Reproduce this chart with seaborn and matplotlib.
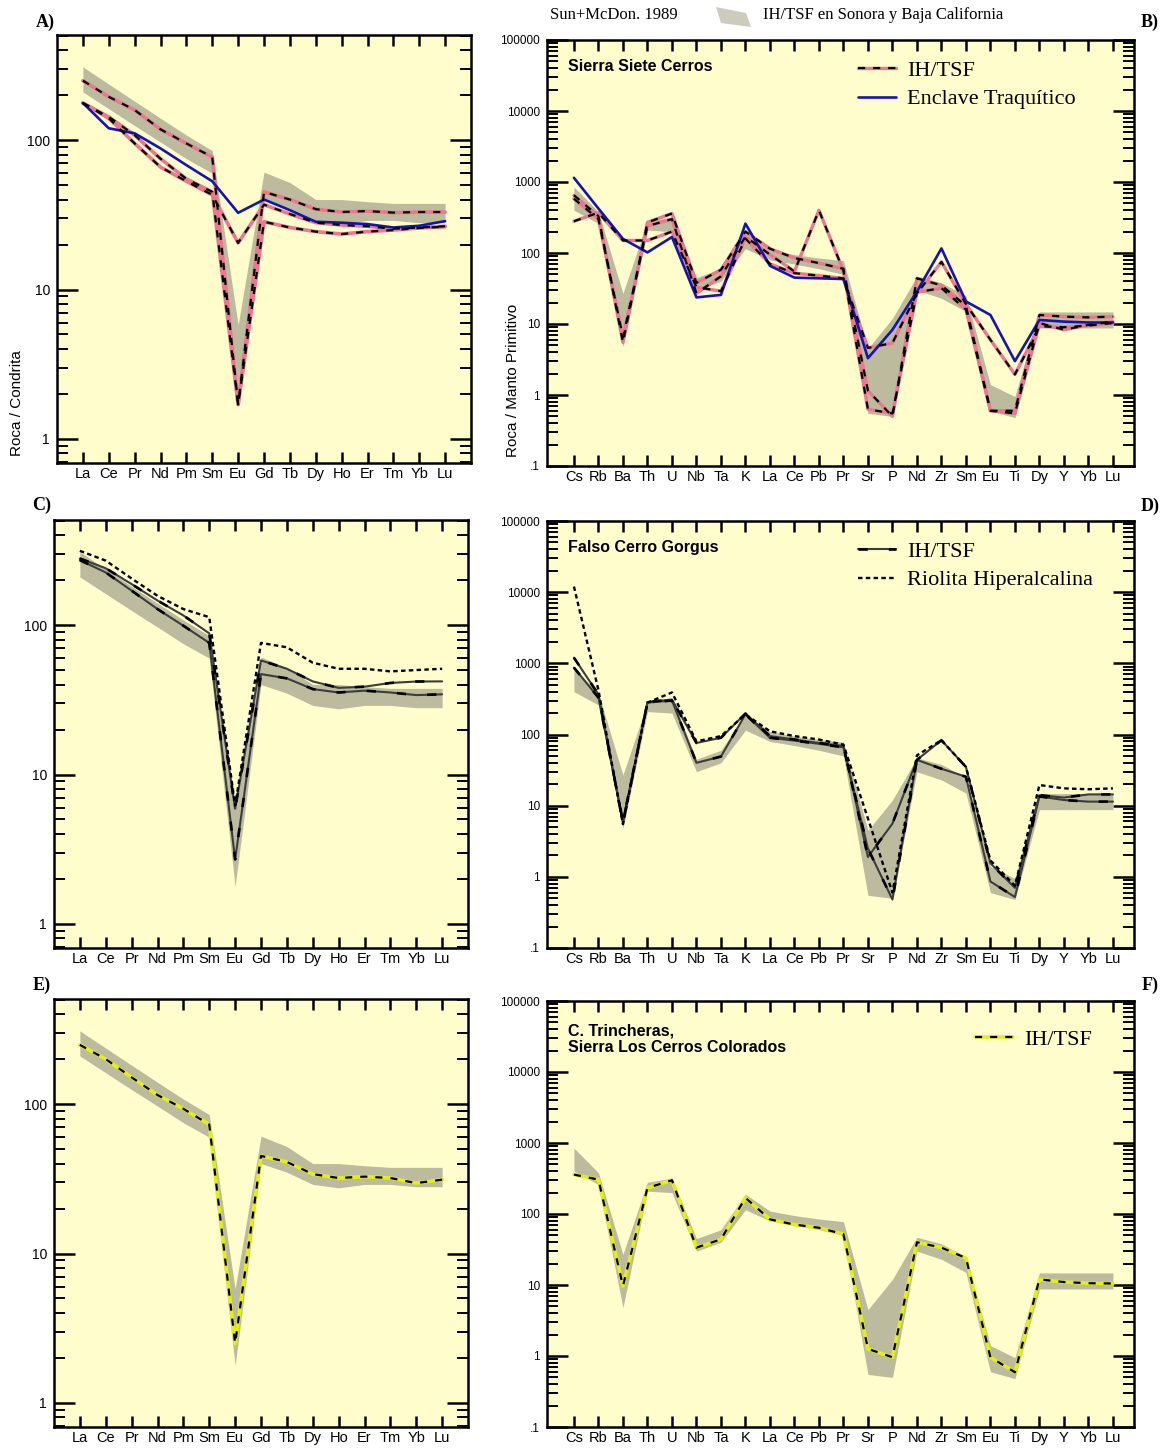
import numpy as np
import matplotlib
matplotlib.use("Agg")
import matplotlib.pyplot as plt
from matplotlib.lines import Line2D
from matplotlib.patches import Polygon
from matplotlib.ticker import LogLocator, NullFormatter, FuncFormatter
import seaborn as sns

# ---------------------------------------------------------------- elements
ree_elements = ["La", "Ce", "Pr", "Nd", "Pm", "Sm", "Eu", "Gd", "Tb", "Dy",
                "Ho", "Er", "Tm", "Yb", "Lu"]
spider_elements = ["Cs", "Rb", "Ba", "Th", "U", "Nb", "Ta", "K", "La", "Ce",
                   "Pb", "Pr", "Sr", "P", "Nd", "Zr", "Sm", "Eu", "Ti", "Dy",
                   "Y", "Yb", "Lu"]

# ------------------------------------- IH/TSF field, Sonora y Baja California
ree_field_hi = [309, 237, 182, 140, 108, 85, 5.8, 61, 52, 40, 40, 38.7, 37.7, 37.7, 37.7]
ree_field_lo = [210, 162, 125, 97, 75, 60, 1.78, 40, 35, 29, 27.5, 29, 29, 28, 28]
spider_field_hi = [850, 380, 27, 280, 320, 45, 60, 190, 110, 95, 85, 78,
                   4.5, 12, 47, 38, 25, 1.4, 0.95, 14.8, 14.8, 14.8, 14.8]
spider_field_lo = [400, 260, 4.8, 210, 200, 30, 40, 115, 80, 70, 60, 50,
                   0.55, 0.5, 30, 23, 15, 0.6, 0.48, 8.8, 8.8, 8.8, 8.8]

# ------------------------------------------------ A) / B) Sierra Siete Cerros
a_ihtsf_1 = [250, 195, 159, 118, 95, 77, 1.7, 45, 40, 34.5, 33, 33.5, 32.7, 33, 33]
a_ihtsf_2 = [177, 143, 108, 75, 55, 45, 1.7, 28.4, 26, 24.4, 23.5, 24.4, 25, 25.8, 26.3]
a_ihtsf_3 = [177, 140, 95, 66, 53, 43, 20.5, 37, 32, 28, 27, 26.5, 25.5, 26, 26.5]
a_enclave = [177, 120, 111, 88, 68, 53, 32.6, 40, 34, 28.4, 28, 27.4, 26, 26.7, 28.7]

b_ihtsf_1 = [650, 330, 5.5, 270, 360, 38, 58, 200, 115, 85, 72, 60,
             1.15, 0.5, 44, 35, 18, 0.6, 0.6, 13.4, 12.7, 12.4, 12.7]
b_ihtsf_2 = [580, 300, 6.5, 240, 300, 27, 47, 170, 95, 55, 400, 56,
             0.63, 0.55, 28, 32, 16, 0.6, 0.55, 10.3, 8.3, 9.7, 10.8]
b_ihtsf_3 = [280, 370, 150, 150, 200, 33, 29, 160, 70, 52, 48, 44,
             4.6, 5.4, 27, 75, 19, 6.0, 1.95, 9.3, 9.0, 9.5, 10.3]
b_enclave = [1145, 423, 158, 102, 168, 23.7, 25.7, 259, 66, 45, 44, 43,
             3.3, 8.3, 28.7, 116, 20.8, 13.4, 3.0, 11.4, 10.8, 10.5, 10.5]

# ------------------------------------------------ C) / D) Falso Cerro Gorgus
c_ihtsf_1 = [279, 240, 188, 146, 116, 88, 5.9, 58, 51, 42, 38, 38.7, 41, 41.9, 42]
c_ihtsf_2 = [272, 225, 170, 128, 99, 76, 2.7, 47, 44, 37.3, 35.4, 36.4, 35.4, 34, 34.4]
c_riolita = [314, 270, 205, 157, 128, 113, 6.2, 76, 71, 56, 51, 51, 49, 50, 51]

d_ihtsf_1 = [1200, 366, 5.7, 286, 310, 76, 90, 197, 95, 85, 76, 69,
             1.9, 5.6, 44, 83, 35, 1.55, 0.7, 14, 13, 14.4, 14.4]
d_ihtsf_2 = [870, 330, 6.0, 280, 300, 40, 49, 192, 90, 82, 74, 66,
             2.5, 0.48, 44, 33, 25.5, 0.86, 0.52, 13.5, 12, 11.4, 11.4]
d_riolita = [12000, 420, 5.5, 280, 390, 80, 95, 192, 111, 95, 85, 72,
             6.6, 0.6, 51, 83, 35, 1.7, 0.75, 19.5, 17.5, 17, 17.5]

# ------------------------- E) / F) C. Trincheras, Sierra Los Cerros Colorados
e_ihtsf = [249, 200, 151, 115, 93, 73, 2.5, 45, 41, 34, 32, 32.7, 32, 29.6, 31.2]
f_ihtsf = [359, 305, 9.7, 233, 299, 33.6, 44, 169, 84, 71, 64, 52,
           1.26, 0.96, 40, 33.6, 24, 0.96, 0.59, 12, 11, 10.6, 10.5]

# ---------------------------------------------------------------- styling
W, H = 1162, 1449
sns.set_theme(style="ticks")
plt.rcParams["font.family"] = ["Liberation Sans", "DejaVu Sans"]
plt.rcParams["axes.linewidth"] = 1.8
plt.rcParams["text.color"] = "black"
plt.rcParams["xtick.color"] = "black"
plt.rcParams["ytick.color"] = "black"
plt.rcParams["xtick.labelcolor"] = "black"
plt.rcParams["ytick.labelcolor"] = "black"
SERIF = ["Liberation Serif", "DejaVu Serif"]

BG = "#FEFDCB"
FIELD = "#BDBB9D"
PINK = "#EC7890"
BLUE = "#1414B4"
YELLOW = "#E4EE1A"
GREY = "#3C3C3C"

PINK_DASH = (3.2, 3.6)
GREY_DASH = (3.5, 8.0)
DOT_DASH = (1.9, 1.4)

fig = plt.figure(figsize=(W / 100, H / 100), dpi=100)
fig.patch.set_facecolor("white")


def add_ax(x0, x1, top, bottom):
    return fig.add_axes([x0 / W, 1 - bottom / H, (x1 - x0) / W, (bottom - top) / H])


def style_axis(ax, names, kind):
    n = len(names)
    ax.set_yscale("log")
    ax.set_facecolor(BG)
    if kind == "ree":
        ax.set_xlim(-1.0, n)
        ax.set_ylim(0.69, 505)
        fmt = lambda v, p: f"{v:g}"
        ysize = 10
    else:
        ax.set_xlim(-1.1, n - 1 + 0.86)
        ax.set_ylim(0.1, 1e5)
        fmt = lambda v, p: ".1" if v < 0.5 else f"{v:g}"
        ysize = 8.5
    ax.set_xticks(range(n))
    ax.set_xticklabels(names)
    ax.yaxis.set_major_locator(LogLocator(base=10, numticks=12))
    ax.yaxis.set_minor_locator(LogLocator(base=10, subs=np.arange(2, 10), numticks=12))
    ax.yaxis.set_major_formatter(FuncFormatter(fmt))
    ax.yaxis.set_minor_formatter(NullFormatter())
    ax.tick_params(axis="x", which="major", direction="in", top=True, bottom=True,
                   length=8, width=1.8, labelsize=10.5, pad=3,
                   colors="black", labelcolor="black")
    ax.tick_params(axis="x", which="minor", top=False, bottom=False)
    ax.tick_params(axis="y", which="major", direction="in", left=True, right=True,
                   length=15, width=1.8, labelsize=ysize, pad=5,
                   colors="black", labelcolor="black")
    ax.tick_params(axis="y", which="minor", direction="in", left=True, right=True,
                   length=8, width=1.4, colors="black")
    for s in ax.spines.values():
        s.set_color("black")
        s.set_linewidth(1.8)
    ax.set_xlabel("")
    ax.set_ylabel("")


def field(ax, lo, hi):
    x = np.arange(len(lo))
    ax.fill_between(x, lo, hi, color=FIELD, lw=0, zorder=1)


def trace(ax, y, color, lw=2.4, dash=None, dash_color="black", dash_lw=1.6, ls="-"):
    x = np.arange(len(y))
    sns.lineplot(x=x, y=y, ax=ax, color=color, lw=lw, linestyle=ls,
                 estimator=None, sort=False, zorder=3)
    if dash is not None:
        sns.lineplot(x=x, y=y, ax=ax, color=dash_color, lw=dash_lw,
                     linestyle=(0, dash), estimator=None, sort=False, zorder=4)


def ihtsf_handle(color, lw, dash, dash_lw=1.6):
    return (Line2D([], [], color=color, lw=lw),
            Line2D([], [], color="black", lw=dash_lw, linestyle=(0, dash)))


def legend(ax, handles, labels, x, y):
    ax.legend(handles, labels, loc="upper left", bbox_to_anchor=(x, y),
              frameon=False, borderaxespad=0, borderpad=0, handlelength=1.7,
              handletextpad=0.5, labelspacing=0.35,
              prop={"family": SERIF, "size": 16})


def title(ax, text, y):
    ax.text(0.036, y, text, transform=ax.transAxes, ha="left", va="center",
            fontsize=11.5, fontweight="bold", linespacing=1.1, color="black")


# ---------------------------------------------------------------- panels
axA = add_ax(57, 471, 35, 463)
axB = add_ax(547, 1134, 40, 466)
axC = add_ax(54, 468, 520, 948)
axD = add_ax(547, 1134, 521, 948)
axE = add_ax(54, 468, 999, 1427)
axF = add_ax(547, 1134, 1001, 1427)

# A
field(axA, ree_field_lo, ree_field_hi)
for line in (a_ihtsf_2, a_ihtsf_3, a_ihtsf_1):
    trace(axA, line, PINK, lw=2.6, dash=PINK_DASH)
trace(axA, a_enclave, BLUE, lw=1.9)
style_axis(axA, ree_elements, "ree")

# B
field(axB, spider_field_lo, spider_field_hi)
for line in (b_ihtsf_3, b_ihtsf_2, b_ihtsf_1):
    trace(axB, line, PINK, lw=2.4, dash=PINK_DASH)
trace(axB, b_enclave, BLUE, lw=1.9)
style_axis(axB, spider_elements, "spider")
title(axB, "Sierra Siete Cerros", 0.937)
legend(axB, [ihtsf_handle(PINK, 2.4, PINK_DASH), Line2D([], [], color=BLUE, lw=1.9)],
       ["IH/TSF", "Enclave Traquítico"], 0.530, 0.952)

# C
field(axC, ree_field_lo, ree_field_hi)
for line in (c_ihtsf_1, c_ihtsf_2):
    trace(axC, line, GREY, lw=1.5, dash=GREY_DASH, dash_lw=1.9)
trace(axC, c_riolita, "black", lw=1.7, ls=(0, DOT_DASH))
style_axis(axC, ree_elements, "ree")

# D
field(axD, spider_field_lo, spider_field_hi)
for line in (d_ihtsf_1, d_ihtsf_2):
    trace(axD, line, GREY, lw=1.5, dash=GREY_DASH, dash_lw=1.9)
trace(axD, d_riolita, "black", lw=1.7, ls=(0, DOT_DASH))
style_axis(axD, spider_elements, "spider")
title(axD, "Falso Cerro Gorgus", 0.937)
legend(axD, [ihtsf_handle(GREY, 1.5, GREY_DASH, 1.9),
             Line2D([], [], color="black", lw=1.7, linestyle=(0, DOT_DASH))],
       ["IH/TSF", "Riolita Hiperalcalina"], 0.530, 0.952)

# E
field(axE, ree_field_lo, ree_field_hi)
trace(axE, e_ihtsf, YELLOW, lw=2.6, dash=PINK_DASH)
style_axis(axE, ree_elements, "ree")

# F
field(axF, spider_field_lo, spider_field_hi)
trace(axF, f_ihtsf, YELLOW, lw=2.6, dash=PINK_DASH)
style_axis(axF, spider_elements, "spider")
title(axF, "C. Trincheras,\nSierra Los Cerros Colorados", 0.911)
legend(axF, [ihtsf_handle(YELLOW, 2.6, PINK_DASH)], ["IH/TSF"], 0.729, 0.933)

# ---------------------------------------------------------------- labels
fig.text(17 / W, 1 - 403 / H, "Roca / Condrita", rotation=90, ha="center",
         va="center", fontsize=11, color="black")
fig.text(513 / W, 1 - 380 / H, "Roca / Manto Primitivo", rotation=90,
         ha="center", va="center", fontsize=11, color="black")

for lab, px, py in [("A)", 45, 22), ("B)", 1150, 22), ("C)", 42, 505),
                    ("D)", 1150, 506), ("E)", 42, 985), ("F)", 1150, 985)]:
    fig.text(px / W, 1 - py / H, lab, ha="center", va="center",
             family=SERIF, fontweight="bold", fontsize=13, color="black")

# header key for the field
fig.text(550 / W, 1 - 15 / H, "Sun+McDon. 1989", ha="left", va="center",
         family=SERIF, fontsize=12, color="black")
key = Polygon([(716 / W, 1 - 7 / H), (746 / W, 1 - 13 / H), (751 / W, 1 - 27 / H),
               (721 / W, 1 - 23 / H)], closed=True, transform=fig.transFigure,
              facecolor="#CDCCBC", edgecolor="none")
fig.add_artist(key)
fig.text(763 / W, 1 - 15 / H, "IH/TSF en Sonora y Baja California", ha="left",
         va="center", family=SERIF, fontsize=12, color="black")

fig.savefig("out.png", dpi=100, facecolor="white")
